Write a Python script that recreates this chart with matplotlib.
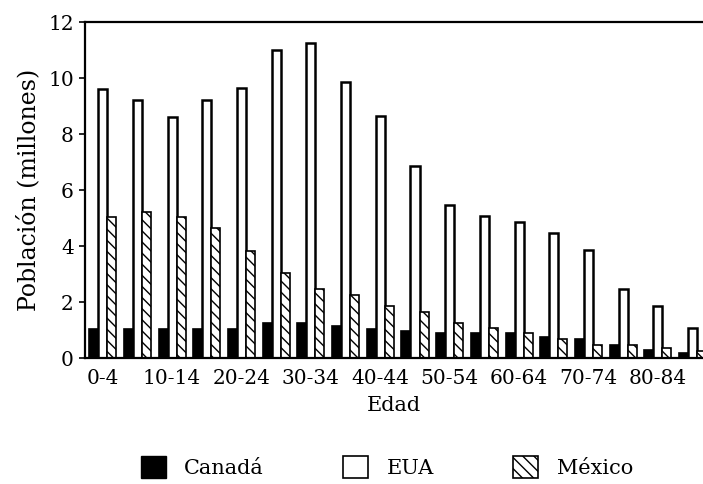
import numpy as np
import matplotlib
matplotlib.use('Agg')
import matplotlib.pyplot as plt
from matplotlib.patches import Patch

plt.rcParams['font.family'] = ['DejaVu Serif']
plt.rcParams['hatch.linewidth'] = 1.0

edades = ['0-4', '5-9', '10-14', '15-19', '20-24', '25-29', '30-34', '35-39',
          '40-44', '45-49', '50-54', '55-59', '60-64', '65-69', '70-74',
          '75-79', '80-84', '85+']
canada = [1.04, 1.04, 1.04, 1.05, 1.05, 1.26, 1.26, 1.15, 1.05, 0.96,
          0.88, 0.88, 0.88, 0.76, 0.67, 0.46, 0.29, 0.19]
eua = [9.6, 9.2, 8.6, 9.2, 9.63, 11.0, 11.24, 9.85, 8.65, 6.87,
       5.46, 5.07, 4.87, 4.47, 3.86, 2.45, 1.87, 1.06]
mexico = [5.02, 5.22, 5.02, 4.63, 3.83, 3.05, 2.45, 2.25, 1.86, 1.65,
          1.26, 1.06, 0.88, 0.67, 0.46, 0.46, 0.35, 0.25]

fig = plt.figure(figsize=(7.03, 4.84), dpi=100)
ax = fig.add_axes([85 / 703, 126 / 484, 618 / 703, 336 / 484])

x = np.arange(len(edades))
w = 0.26
ax.bar(x - 0.25, canada, w, color='black', edgecolor='black', linewidth=1.2)
ax.bar(x + 0.01, eua, w, color='white', edgecolor='black', linewidth=1.8)
ax.bar(x + 0.27, mexico, w, color='white', edgecolor='black', linewidth=1.2,
       hatch='\\\\\\')

ax.set_xlim(-0.5, -0.5 + 618 / 34.7)
ax.set_ylim(0, 12)
ax.set_yticks(range(0, 13, 2))
ax.set_xticks(x[::2])
ax.set_xticklabels(edades[::2])
ax.tick_params(axis='both', labelsize=14.5, direction='out', width=1.2)
ax.tick_params(axis='x', length=0, pad=8)
ax.tick_params(axis='y', length=4, pad=4)
for s in ['left', 'top', 'bottom']:
    ax.spines[s].set_linewidth(1.6)
ax.spines['right'].set_visible(False)

ax.set_xlabel('Edad', fontsize=15, labelpad=6)
ax.set_ylabel('Población (millones)', fontsize=17, labelpad=6)

handles = [Patch(facecolor='black', edgecolor='black'),
           Patch(facecolor='white', edgecolor='black', linewidth=1.2),
           Patch(facecolor='white', edgecolor='black', linewidth=1.2, hatch='\\\\\\')]
fig.legend(handles, ['Canadá', 'EUA', 'México'], loc='center',
           bbox_to_anchor=(387 / 703, 1 - 467 / 484), ncol=3, frameon=False,
           fontsize=15, handlelength=1.2, handleheight=1.2,
           columnspacing=3.8, handletextpad=0.9)

fig.savefig('out.png', dpi=100)
